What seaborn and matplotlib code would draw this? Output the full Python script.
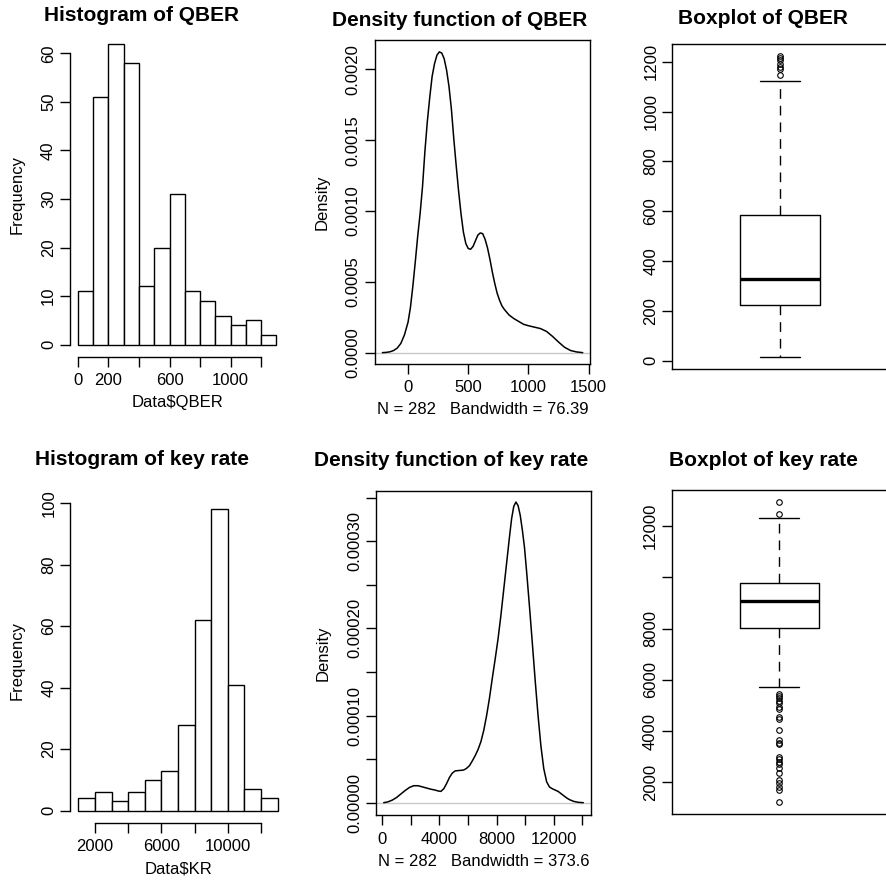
import numpy as np
import matplotlib
matplotlib.use("Agg")
import matplotlib.pyplot as plt
import seaborn as sns

# ---------------- data ----------------
# QBER histogram (bin edges of 100, counts per bin)
qber_edges = [0, 100, 200, 300, 400, 500, 600, 700, 800, 900, 1000, 1100, 1200, 1300]
qber_counts = [11, 51, 62, 58, 12, 20, 31, 11, 9, 6, 4, 5, 2]

# key-rate histogram (bin edges of 1000, counts per bin)
kr_edges = [1000, 2000, 3000, 4000, 5000, 6000, 7000, 8000, 9000, 10000, 11000, 12000, 13000]
kr_counts = [4, 6, 3, 6, 10, 13, 28, 62, 98, 41, 7, 4]

sample_n = 282
qber_bw = 76.39
kr_bw = 373.6

# kernel density estimate of QBER (density in units of 1e-3)
qber_dens_x = [-213, -180, -150, -120, -90, -60, -30, 0, 20, 40, 60, 80, 100, 120,
               140, 160, 180, 200, 220, 240, 260, 280, 300, 320, 340, 360, 380, 400,
               420, 440, 460, 480, 500, 520, 540, 560, 580, 600, 620, 640, 660, 680,
               700, 720, 740, 760, 780, 800, 840, 880, 920, 960, 1000, 1050, 1100,
               1150, 1200, 1250, 1300, 1350, 1400, 1451]
qber_dens_y = [0.0, 0.002, 0.006, 0.015, 0.032, 0.065, 0.125, 0.215, 0.32, 0.47,
               0.64, 0.82, 0.98, 1.17, 1.42, 1.63, 1.80, 1.95, 2.04, 2.10, 2.123,
               2.115, 2.075, 1.995, 1.88, 1.72, 1.51, 1.32, 1.14, 0.98, 0.85, 0.77,
               0.735, 0.73, 0.75, 0.79, 0.83, 0.845, 0.84, 0.80, 0.74, 0.66, 0.57,
               0.49, 0.42, 0.37, 0.33, 0.305, 0.265, 0.24, 0.22, 0.20, 0.19, 0.18,
               0.17, 0.15, 0.115, 0.075, 0.038, 0.015, 0.005, 0.0]
qber_dens_y = [v * 1e-3 for v in qber_dens_y]

# kernel density estimate of key rate (density in units of 1e-5)
kr_dens_x = [100, 400, 700, 1000, 1300, 1600, 1900, 2200, 2500, 2800, 3100, 3400,
             3700, 3900, 4100, 4300, 4500, 4700, 4900, 5100, 5400, 5700, 5900, 6100,
             6300, 6500, 6700, 6900, 7100, 7300, 7500, 7700, 7900, 8100, 8300, 8500,
             8700, 8900, 9050, 9200, 9350, 9500, 9650, 9800, 9950, 10100, 10300,
             10500, 10700, 10900, 11100, 11300, 11500, 11700, 11900, 12100, 12300,
             12500, 12700, 12900, 13100, 13400, 13700, 14069]
kr_dens_y = [0.0, 0.1, 0.3, 0.6, 1.0, 1.4, 1.75, 1.95, 1.95, 1.82, 1.68, 1.55, 1.45,
             1.35, 1.3, 1.6, 2.2, 2.9, 3.4, 3.65, 3.7, 3.75, 3.95, 4.25, 4.8, 5.4,
             6.1, 7.0, 8.3, 10.0, 12.0, 14.3, 16.5, 18.8, 21.5, 24.5, 27.5, 30.5,
             32.6, 34.0, 34.5, 34.1, 33.0, 31.3, 29.3, 26.5, 22.5, 18.3, 14.0, 10.0,
             6.5, 3.9, 2.4, 1.8, 1.6, 1.45, 1.3, 1.05, 0.8, 0.55, 0.35, 0.15, 0.05, 0.0]
kr_dens_y = [v * 1e-5 for v in kr_dens_y]

# five-number summaries and outliers for the box plots
qber_box = dict(whislo=16, q1=222, med=329, q3=586, whishi=1122,
                fliers=[1145, 1170, 1180, 1192, 1205, 1215, 1222])
kr_box = dict(whislo=5732, q1=8034, med=9087, q3=9764, whishi=12312,
              fliers=[12468, 12948, 5446, 5368, 5277, 5186, 5082, 4952, 4874, 4562,
                      4484, 4042, 3652, 3547, 3483, 3000, 2899, 2806, 2716, 2547,
                      2377, 2092, 1962, 1832, 1702, 1222])

# ---------------- styling ----------------
sns.set_theme(style="ticks")
plt.rcParams["font.family"] = ["Liberation Sans", "DejaVu Sans"]
plt.rcParams.update({
    "axes.edgecolor": "black",
    "axes.linewidth": 1.0,
    "xtick.color": "black",
    "ytick.color": "black",
    "text.color": "black",
    "axes.labelcolor": "black",
})

W, H = 886, 883
fig = plt.figure(figsize=(W / 100, H / 100), dpi=100)
fig.patch.set_facecolor("white")

TICK_FS = 12
TITLE_FS = 15


def add_axes(x0, y0, x1, y1):
    return fig.add_axes([x0 / W, 1 - y1 / H, (x1 - x0) / W, (y1 - y0) / H])


def base_style(ax):
    ax.set_facecolor("white")
    ax.tick_params(direction="out", length=7, width=1, colors="black",
                   labelsize=TICK_FS)
    ax.tick_params(axis="x", pad=5)
    ax.tick_params(axis="y", pad=3)
    for s in ax.spines.values():
        s.set_linewidth(1)
        s.set_color("black")


def set_ticks(ax, xt=None, xl=None, yt=None, yl=None):
    if xt is not None:
        ax.set_xticks(xt, xl)
    else:
        ax.set_xticks([])
    if yt is not None:
        ax.set_yticks(yt, yl, rotation=90, va="center")


def title(x, y, s):
    fig.text(x / W, 1 - y / H, s, ha="center", va="baseline",
             fontsize=TITLE_FS, fontweight="bold")


def histogram(ax, edges, counts, xlim, ylim, xt, xl, yt, xlabel):
    sns.histplot(x=edges[:-1], weights=counts, bins=edges, ax=ax, color="white",
                 edgecolor="black", linewidth=1, alpha=1)
    ax.set_xlim(*xlim)
    ax.set_ylim(*ylim)
    base_style(ax)
    ax.spines["top"].set_visible(False)
    ax.spines["right"].set_visible(False)
    ax.spines["bottom"].set_bounds(xt[0], xt[-1])
    ax.spines["left"].set_bounds(yt[0], yt[-1])
    set_ticks(ax, xt, xl, yt, [str(v) for v in yt])
    ax.set_xlabel(xlabel, fontsize=TICK_FS, labelpad=5)
    ax.set_ylabel("Frequency", fontsize=TICK_FS, labelpad=12)


def density(ax, xs, ys, xlim, ylim, xt, xl, yt, yl, n, bw):
    ax.axhline(0, color="#c8c8c8", lw=1, zorder=1)
    sns.lineplot(x=xs, y=ys, ax=ax, color="black", linewidth=1.1, sort=False,
                 estimator=None, zorder=2)
    ax.set_xlim(*xlim)
    ax.set_ylim(*ylim)
    base_style(ax)
    set_ticks(ax, xt, xl, yt, yl)
    ax.set_xlabel(f"N = {n}   Bandwidth = {bw}", fontsize=TICK_FS, labelpad=5)
    ax.set_ylabel("Density", fontsize=TICK_FS, labelpad=12)


def boxplot(ax, stats, ylim, yt, yl):
    ax.bxp([stats], positions=[1], widths=0.37, capwidths=0.185,
           boxprops=dict(color="black", lw=1),
           whiskerprops=dict(color="black", lw=1, linestyle=(0, (7, 5))),
           capprops=dict(color="black", lw=1),
           medianprops=dict(color="black", lw=2.4),
           flierprops=dict(marker="o", markerfacecolor="none", markeredgecolor="black",
                           markersize=4, markeredgewidth=0.8))
    ax.set_xlim(0.5, 1.5)
    ax.set_ylim(*ylim)
    base_style(ax)
    set_ticks(ax, None, None, yt, yl)


# ---- top row: QBER ----
ax1 = add_axes(70, 31.6, 284.4, 356.7)
histogram(ax1, qber_edges, qber_counts, (-52, 1352), (-2.48, 64.48),
          [0, 200, 400, 600, 800, 1000, 1200], ["0", "200", "", "600", "", "1000", ""],
          [0, 10, 20, 30, 40, 50, 60], "Data$QBER")
title(141.5, 21, "Histogram of QBER")

ax2 = add_axes(374.7, 40, 590.3, 363.7)
density(ax2, qber_dens_x, qber_dens_y, (-277, 1514), (-7.8e-5, 2.207e-3),
        [0, 500, 1000, 1500], ["0", "500", "1000", "1500"],
        [0, 0.0005, 0.001, 0.0015, 0.002],
        ["0.0000", "0.0005", "0.0010", "0.0015", "0.0020"], sample_n, qber_bw)
title(460, 26, "Density function of QBER")

ax3 = add_axes(672.3, 44, 888, 368.7)
boxplot(ax3, qber_box, (-32, 1271), [0, 200, 400, 600, 800, 1000, 1200],
        ["0", "200", "400", "600", "800", "1000", "1200"])
title(762.5, 24, "Boxplot of QBER")

# ---- bottom row: key rate ----
ax4 = add_axes(70.4, 497.4, 285.6, 822.7)
histogram(ax4, kr_edges, kr_counts, (520, 13480), (-3.92, 101.92),
          [2000, 4000, 6000, 8000, 10000, 12000], ["2000", "", "6000", "", "10000", ""],
          [0, 20, 40, 60, 80, 100], "Data$KR")
title(142, 465, "Histogram of key rate")

ax5 = add_axes(376, 490.7, 590.7, 815)
density(ax5, kr_dens_x, kr_dens_y, (-441, 14584), (-1.41e-5, 3.58e-4),
        [0, 2000, 4000, 6000, 8000, 10000, 12000, 14000],
        ["0", "", "4000", "", "8000", "", "12000", ""],
        [0, 5e-5, 1e-4, 1.5e-4, 2e-4, 2.5e-4, 3e-4, 3.5e-4],
        ["0.00000", "", "0.00010", "", "0.00020", "", "0.00030", ""], sample_n, kr_bw)
title(451, 466, "Density function of key rate")

ax6 = add_axes(671.7, 490, 887, 814.3)
boxplot(ax6, kr_box, (753, 13410), [2000, 4000, 6000, 8000, 10000, 12000],
        ["2000", "4000", "6000", "8000", "", "12000"])
title(763, 466, "Boxplot of key rate")

fig.savefig("out.png", dpi=100, facecolor="white")
